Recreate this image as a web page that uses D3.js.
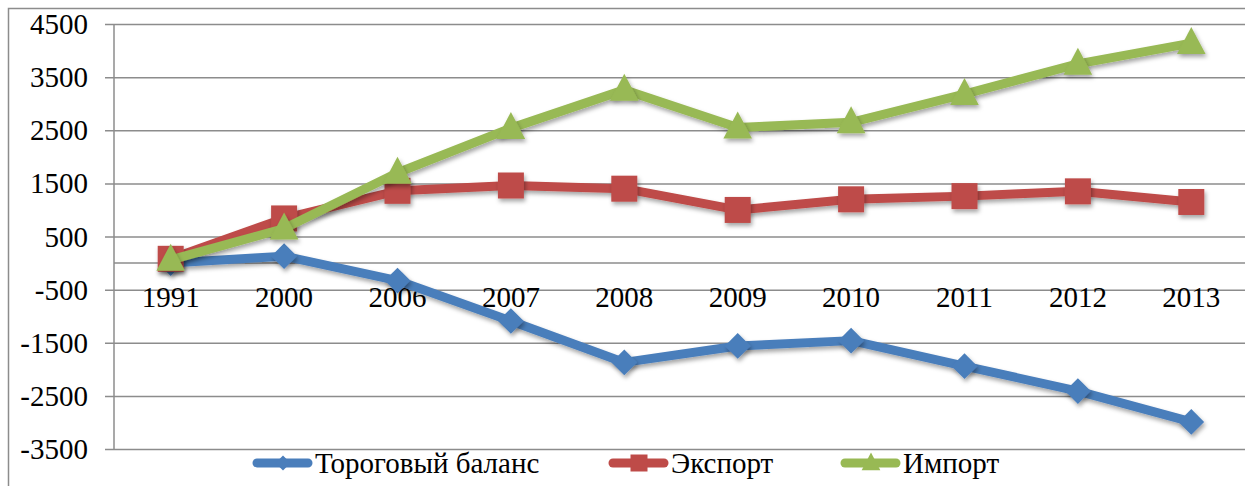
<!DOCTYPE html>
<html>
<head>
<meta charset="utf-8">
<script src="https://cdn.jsdelivr.net/npm/d3@7"></script>
</head>
<body style="margin:0; background:#fff">
<svg id="chart" width="1245" height="486"></svg>
<script>
// chart data
var years    = ["1991","2000","2006","2007","2008","2009","2010","2011","2012","2013"];
var balance  = [0, 130, -330, -1090, -1870, -1560, -1460, -1940, -2410, -2990];
var exportV  = [80, 840, 1360, 1460, 1400, 1000, 1200, 1260, 1350, 1150];
var importV  = [60, 650, 1700, 2540, 3260, 2550, 2650, 3180, 3750, 4140];
var yTicks   = [4500, 3500, 2500, 1500, 500, -500, -1500, -2500, -3500];
var seriesNames = ["Тороговый баланс", "Экспорт", "Импорт"];

var series = [
  {name: seriesNames[0], values: balance, color: "#4a7ebb", shape: "diamond"},
  {name: seriesNames[1], values: exportV, color: "#be4b48", shape: "square"},
  {name: seriesNames[2], values: importV, color: "#98b954", shape: "triangle"}
];

var svg = d3.select("#chart");

// outer chart frame (only left and top visible)
svg.append("path")
   .attr("d", "M8.5,486 L8.5,8.5 L1245,8.5")
   .attr("fill", "none")
   .attr("stroke", "#8c8c8c")
   .attr("stroke-width", 1.5);

var x = d3.scaleBand().domain(years).range([114, 1248]);
var y = d3.scaleLinear().domain([-3500, 4500]).range([449, 24]);

// shadow for markers
var defs = svg.append("defs");
defs.append("filter").attr("id", "shadow")
    .attr("x", "-50%").attr("y", "-50%").attr("width", "200%").attr("height", "200%")
  .append("feDropShadow")
    .attr("dx", 1.5).attr("dy", 3)
    .attr("stdDeviation", 2)
    .attr("flood-color", "#000")
    .attr("flood-opacity", 0.35);

// gridlines + y axis
var yAxis = d3.axisLeft(y).tickValues(yTicks).tickSize(-(1248 - 105)).tickPadding(0)
              .tickFormat(function(d){ return d < 0 ? "-" + Math.abs(d) : String(d); });
var gy = svg.append("g").attr("transform", "translate(114,0)").call(yAxis)
            .attr("font-family", "Liberation Serif")
            .attr("font-size", 29);
gy.select(".domain").remove();
gy.selectAll(".tick line")
  .attr("x1", -9)
  .attr("x2", 1248 - 114)
  .attr("stroke", "#8c8c8c")
  .attr("stroke-width", 1.5);
gy.selectAll(".tick text")
  .attr("x", -26)
  .attr("dy", "0.33em")
  .attr("fill", "#000");

// vertical value axis line
svg.append("line")
   .attr("x1", 114).attr("x2", 114)
   .attr("y1", y(4500)).attr("y2", y(-3500))
   .attr("stroke", "#8c8c8c").attr("stroke-width", 1.5);

// category axis at zero
var xAxis = d3.axisBottom(x).tickSize(0).tickPadding(0);
var gx = svg.append("g").attr("transform", "translate(0," + y(0) + ")").call(xAxis)
            .attr("font-family", "Liberation Serif")
            .attr("font-size", 29);
gx.select(".domain")
  .attr("d", "M114,0H1248")
  .attr("stroke", "#8c8c8c")
  .attr("stroke-width", 1.5);
gx.selectAll(".tick text")
  .attr("y", 44)
  .attr("dy", 0)
  .attr("fill", "#000");

// marker shapes
function markerPath(shape, s){
  if(shape == "diamond") return d3.symbol().type(d3.symbolDiamond2).size(s*s*0.5)();
  if(shape == "square") return d3.symbol().type(d3.symbolSquare).size(s*s)();
  return "M0," + (-s*0.62) + "L" + (s*0.55) + "," + (s*0.42) + "L" + (-s*0.55) + "," + (s*0.42) + "Z";
}

var line = d3.line()
  .x(function(d, i){ return x(years[i]) + x.bandwidth()/2; })
  .y(function(d){ return y(d); });

series.forEach(function(s){
  var g = svg.append("g").attr("class", "series");
  g.append("path")
   .attr("d", line(s.values))
   .attr("fill", "none")
   .attr("stroke", s.color)
   .attr("stroke-width", 9)
   .attr("stroke-linejoin", "round")
   .attr("filter", "url(#shadow)");
  g.selectAll("path.mark").data(s.values)
   .enter()
   .append("path")
   .attr("class", "mark")
   .attr("transform", function(d, i){
      return "translate(" + (x(years[i]) + x.bandwidth()/2) + "," + y(d) + ")";
   })
   .attr("d", markerPath(s.shape, s.shape == "diamond" ? 29 : 26))
   .attr("fill", s.color)
   .attr("filter", "url(#shadow)");
});

// legend
var legendX = [253, 609, 841];
var legend = svg.append("g").attr("class", "legend")
                .attr("font-family", "Liberation Serif")
                .attr("font-size", 29);
series.forEach(function(s, i){
  var lg = legend.append("g").attr("transform", "translate(" + legendX[i] + ",463)");
  lg.append("line")
    .attr("x1", 4).attr("x2", 55)
    .attr("stroke", s.color)
    .attr("stroke-width", 9)
    .attr("stroke-linecap", "round");
  lg.append("path")
    .attr("transform", "translate(30,0)")
    .attr("d", markerPath(s.shape, 17))
    .attr("fill", s.color);
  lg.append("text")
    .attr("x", 62)
    .attr("y", 10)
    .attr("fill", "#000")
    .text(s.name);
});
</script>
</body>
</html>
